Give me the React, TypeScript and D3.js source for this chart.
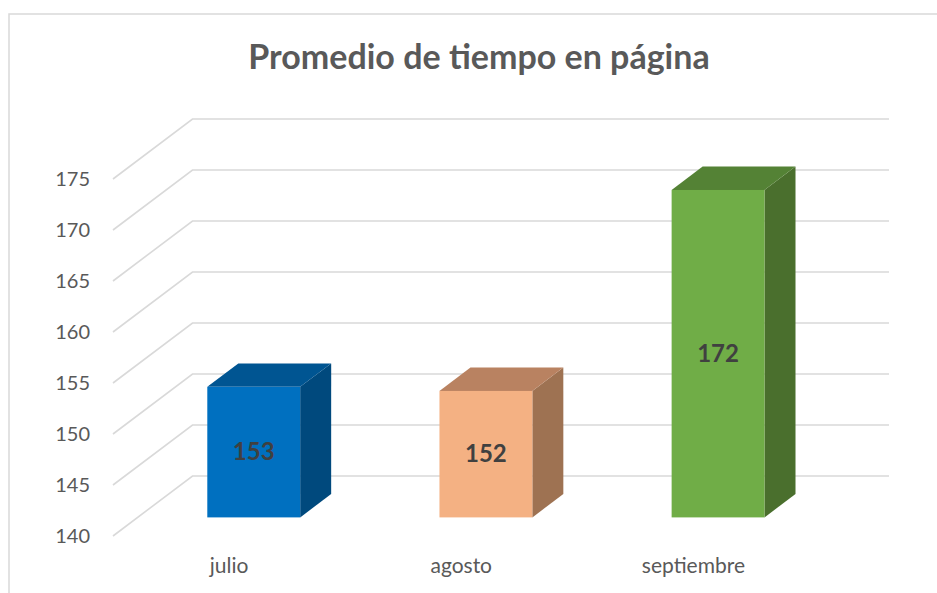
import { useEffect, useRef } from 'react';
import * as d3 from 'd3';

// datos del gráfico
const categorias = ['julio', 'agosto', 'septiembre'];
const valores = [152.8, 152.4, 172.1];
const ticksY = [140, 145, 150, 155, 160, 165, 170, 175];
const titulo = 'Promedio de tiempo en página';

// colores (frente, arriba, lado)
const coloresFrente = ['#0070C0', '#F4B183', '#70AD47'];
const coloresArriba = ['#005592', '#B98261', '#548235'];
const coloresLado = ['#00497D', '#9E7252', '#4A6F2D'];

const W = 937;
const H = 593;

export default function App() {
    const svgRef = useRef<SVGSVGElement>(null);

    useEffect(() => {
        if (!svgRef.current) return;
        const svg = d3.select(svgRef.current);
        svg.selectAll('*').remove();

        const font = 'Lato, "Open Sans", sans-serif';

        // borde del área del gráfico
        svg.append('rect')
            .attr('x', 9).attr('y', 14)
            .attr('width', W).attr('height', H)
            .attr('fill', '#fff')
            .attr('stroke', '#d9d9d9')
            .attr('stroke-width', 1.5);

        // proyección oblicua: z = profundidad 0..1
        const DX = 79.5;
        const DY = -60;
        const x = d3.scaleBand<string>()
            .domain(categorias)
            .range([113, 809.5])
            .paddingInner(0.6)
            .paddingOuter(0.3);
        const y = d3.scaleLinear().domain([140, 175]).range([536, 179]);
        const P = (px: number, py: number, z: number): [number, number] => [px + DX * z, py + DY * z];

        const g = svg.append('g');

        // 1. Líneas de cuadrícula (pared lateral + pared del fondo)
        ticksY.forEach(t => {
            const f = P(x.range()[0], y(t), 0);
            const b = P(x.range()[0], y(t), 1);
            const e = P(x.range()[1], y(t), 1);
            g.append('path')
                .attr('d', `M${f[0]},${f[1]}L${b[0]},${b[1]}L${e[0]},${e[1]}`)
                .attr('fill', 'none')
                .attr('stroke', '#d9d9d9')
                .attr('stroke-width', 1.6);
        });

        // 2. Etiquetas del eje Y
        g.selectAll('.ytick')
            .data(ticksY)
            .enter().append('text')
            .attr('x', 90)
            .attr('y', d => y(d) + 7)
            .attr('text-anchor', 'end')
            .attr('font-family', font)
            .attr('font-size', 20)
            .attr('fill', '#595959')
            .text(d => d);

        // 3. Columnas 3D
        const z0 = 0.31;
        const z1 = 0.70;
        const poly = (pts: [number, number][]) => 'M' + pts.map(p => p.join(',')).join('L') + 'Z';

        valores.forEach((v, i) => {
            const x0 = x(categorias[i])!;
            const x1 = x0 + x.bandwidth();
            const yb = y(140);
            const yt = y(v);

            // lado derecho
            g.append('path')
                .attr('d', poly([P(x1, yb, z0), P(x1, yt, z0), P(x1, yt, z1), P(x1, yb, z1)]))
                .attr('fill', coloresLado[i]);
            // cara superior
            g.append('path')
                .attr('d', poly([P(x0, yt, z0), P(x1, yt, z0), P(x1, yt, z1), P(x0, yt, z1)]))
                .attr('fill', coloresArriba[i]);
            // cara frontal
            const a = P(x0, yt, z0);
            const b = P(x1, yb, z0);
            g.append('rect')
                .attr('x', a[0]).attr('y', a[1])
                .attr('width', b[0] - a[0]).attr('height', b[1] - a[1])
                .attr('fill', coloresFrente[i]);

            // etiqueta de valor
            g.append('text')
                .attr('x', (a[0] + b[0]) / 2)
                .attr('y', (a[1] + b[1]) / 2 + 8)
                .attr('text-anchor', 'middle')
                .attr('font-family', font)
                .attr('font-weight', 'bold')
                .attr('font-size', 24)
                .attr('fill', '#404040')
                .text(Math.round(v));
        });

        // 4. Etiquetas de categoría
        g.selectAll('.xtick')
            .data(categorias)
            .enter().append('text')
            .attr('x', d => x(d)! + x.bandwidth() / 2)
            .attr('y', 573)
            .attr('text-anchor', 'middle')
            .attr('font-family', font)
            .attr('font-size', 21)
            .attr('fill', '#595959')
            .text(d => d);

        // 5. Título
        svg.append('text')
            .attr('x', 479)
            .attr('y', 69)
            .attr('text-anchor', 'middle')
            .attr('font-family', font)
            .attr('font-weight', 'bold')
            .attr('font-size', 34)
            .attr('fill', '#595959')
            .text(titulo);
    }, []);

    return (
        <svg
            ref={svgRef}
            width={W}
            height={H}
            style={{ position: 'absolute', left: 0, top: 0, background: '#fff' }}
        />
    );
}
